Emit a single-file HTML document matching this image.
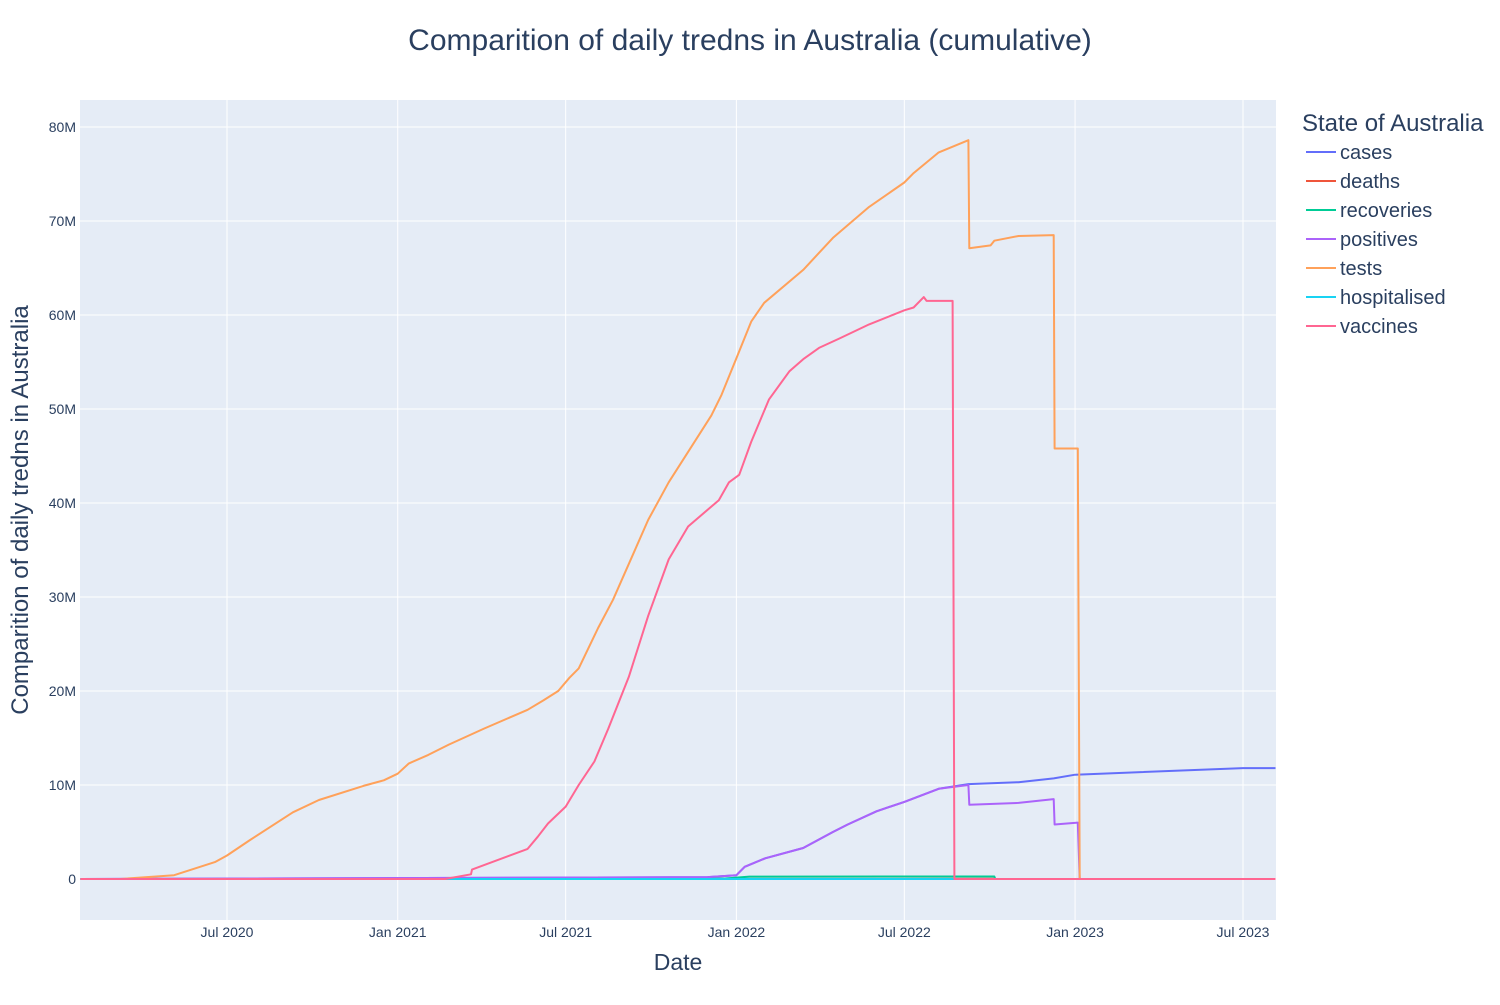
<!DOCTYPE html>
<html><head><meta charset="utf-8"><style>
body{margin:0;background:#fff;font-family:"Liberation Sans",Arial,sans-serif}
svg text{font-family:"Liberation Sans",Arial,sans-serif}
</style></head><body>
<svg id="chart" width="1500" height="1000" xmlns="http://www.w3.org/2000/svg">
<rect x="0" y="0" width="1500" height="1000" fill="#fff"/>
<rect x="80" y="100" width="1196" height="820" fill="#e5ecf6"/>
<g id="grid"></g><g id="series"></g><g id="axes"></g><g id="legend"></g>
<text x="750" y="50" text-anchor="middle" font-size="30" fill="#2a3f5f">Comparition of daily tredns in Australia (cumulative)</text>
<text x="678" y="970" text-anchor="middle" font-size="23" fill="#2a3f5f">Date</text>
<text transform="translate(28,510) rotate(-90)" text-anchor="middle" font-size="24" fill="#2a3f5f">Comparition of daily tredns in Australia</text>
</svg>
<script>
const seriesNames=["cases","deaths","recoveries","positives","tests","hospitalised","vaccines"];
const seriesColors=["#636efa","#EF553B","#00cc96","#ab63fa","#FFA15A","#19d3f3","#FF6692"];
const xTickLabels=["Jul 2020","Jan 2021","Jul 2021","Jan 2022","Jul 2022","Jan 2023","Jul 2023"];
const xTickDates=["2020-07-01","2021-01-01","2021-07-01","2022-01-01","2022-07-01","2023-01-01","2023-07-01"];
const yTicks=[0,10,20,30,40,50,60,70,80];
const yTickLabels=["0","10M","20M","30M","40M","50M","60M","70M","80M"];
const casesDates=["2020-01-25","2021-12-01","2022-01-01","2022-01-10","2022-02-01","2022-03-14","2022-04-15","2022-05-01","2022-06-01","2022-07-01","2022-08-07","2022-09-08","2022-11-01","2022-12-09","2023-01-01","2023-07-01","2023-08-05"];
const casesValues=[0,0.2,0.4,1.3,2.2,3.3,5.0,5.8,7.2,8.2,9.6,10.1,10.3,10.7,11.1,11.8,11.8];
const deathsDates=["2020-01-25","2022-10-06","2022-10-07","2023-08-05"];
const deathsValues=[0,0.02,0,0];
const recoveriesDates=["2020-01-25","2021-12-20","2022-01-15","2022-10-06","2022-10-07","2023-08-05"];
const recoveriesValues=[0,0.05,0.25,0.27,0,0];
const positivesDates=["2020-01-25","2021-12-01","2022-01-01","2022-01-10","2022-02-01","2022-03-14","2022-04-15","2022-05-01","2022-06-01","2022-07-01","2022-08-07","2022-09-08","2022-09-09","2022-11-01","2022-12-09","2022-12-10","2023-01-04","2023-01-06","2023-08-05"];
const positivesValues=[0,0.2,0.4,1.3,2.2,3.3,5.0,5.8,7.2,8.2,9.6,10.0,7.9,8.1,8.5,5.8,6.0,0,0];
const testsDates=["2020-01-25","2020-03-08","2020-05-05","2020-06-18","2020-07-01","2020-07-25","2020-09-10","2020-10-08","2020-11-25","2020-12-17","2021-01-01","2021-01-13","2021-02-03","2021-02-25","2021-04-04","2021-05-21","2021-06-07","2021-06-23","2021-07-05","2021-07-15","2021-08-05","2021-08-21","2021-09-28","2021-10-20","2021-12-05","2021-12-16","2022-01-01","2022-01-17","2022-01-31","2022-03-14","2022-04-15","2022-05-24","2022-07-01","2022-07-11","2022-08-07","2022-09-08","2022-09-09","2022-10-02","2022-10-06","2022-11-01","2022-12-09","2022-12-10","2023-01-04","2023-01-06","2023-08-05"];
const testsValues=[0,0,0.4,1.8,2.5,4.1,7.1,8.4,9.9,10.5,11.2,12.3,13.2,14.3,16.0,18.0,19.0,20.0,21.4,22.4,26.7,29.7,38.2,42.2,49.3,51.5,55.4,59.3,61.3,64.8,68.2,71.5,74.1,75.1,77.3,78.6,67.1,67.4,67.9,68.4,68.5,45.8,45.8,0,0];
const hospDates=["2020-01-25","2023-08-05"];
const hospValues=[0,0];
const vaccinesDates=["2020-01-25","2021-02-21","2021-03-21","2021-03-22","2021-05-21","2021-06-01","2021-06-12","2021-07-01","2021-07-15","2021-08-01","2021-08-16","2021-09-07","2021-09-28","2021-10-20","2021-11-10","2021-12-13","2021-12-24","2022-01-04","2022-01-17","2022-02-05","2022-02-27","2022-03-14","2022-03-31","2022-04-22","2022-05-24","2022-07-01","2022-07-11","2022-07-22","2022-07-25","2022-08-22","2022-08-24","2023-08-05"];
const vaccinesValues=[0,0,0.5,1.0,3.2,4.5,5.9,7.7,10.0,12.5,16.0,21.5,28.0,34.0,37.5,40.3,42.2,43.0,46.5,51.0,54.0,55.3,56.5,57.5,59.0,60.5,60.8,61.9,61.5,61.5,0,0];
const allDates=[casesDates,deathsDates,recoveriesDates,positivesDates,testsDates,hospDates,vaccinesDates];
const allValues=[casesValues,deathsValues,recoveriesValues,positivesValues,testsValues,hospValues,vaccinesValues];

const NS="http://www.w3.org/2000/svg";
const t0=Date.parse("2020-07-01"),t1=Date.parse("2023-07-01");
function xs(d){return 227+(Date.parse(d)-t0)/(t1-t0)*(1243-227);}
function ys(v){return 879-v*9.4;}
function mk(tag,attrs,parent){const e=document.createElementNS(NS,tag);for(const k in attrs)e.setAttribute(k,attrs[k]);parent.appendChild(e);return e;}
const grid=document.getElementById('grid'),axes=document.getElementById('axes'),ser=document.getElementById('series'),leg=document.getElementById('legend');
xTickDates.forEach((d,i)=>{const x=xs(d);
 const l=mk('line',{x1:x,x2:x,y1:100,y2:920,stroke:'#fff','stroke-width':1},grid);
 
 
 const t=mk('text',{x:x,y:937,'text-anchor':'middle','font-size':14,fill:'#2a3f5f'},axes);t.textContent=xTickLabels[i];
 
 });
yTicks.forEach((v,i)=>{const y=ys(v);
 const l=mk('line',{x1:80,x2:1276,y1:y,y2:y,stroke:'#fff','stroke-width':v===0?2:1},grid);
 
 
 const t=mk('text',{x:76,y:y+5,'text-anchor':'end','font-size':14,fill:'#2a3f5f'},axes);t.textContent=yTickLabels[i];
 
 });
seriesNames.forEach((n,i)=>{
 const pts=allDates[i].map((d,j)=>xs(d).toFixed(1)+','+ys(allValues[i][j]).toFixed(1)).join(' ');
 const p=mk('polyline',{points:pts,fill:'none',stroke:seriesColors[i],'stroke-width':2,'stroke-linejoin':'round'},ser);
 
 
 const y=152+i*29;
 const g=mk('g',{},leg);
 
 
 mk('line',{x1:1306,x2:1336,y1:y,y2:y,stroke:seriesColors[i],'stroke-width':2},g);
 const t=mk('text',{x:1340,y:y+7,'font-size':20,fill:'#2a3f5f'},g);t.textContent=n;});
const lt=mk('text',{x:1302,y:131,'font-size':24,fill:'#2a3f5f'},leg);lt.textContent="State of Australia";


</script>
</body></html>
